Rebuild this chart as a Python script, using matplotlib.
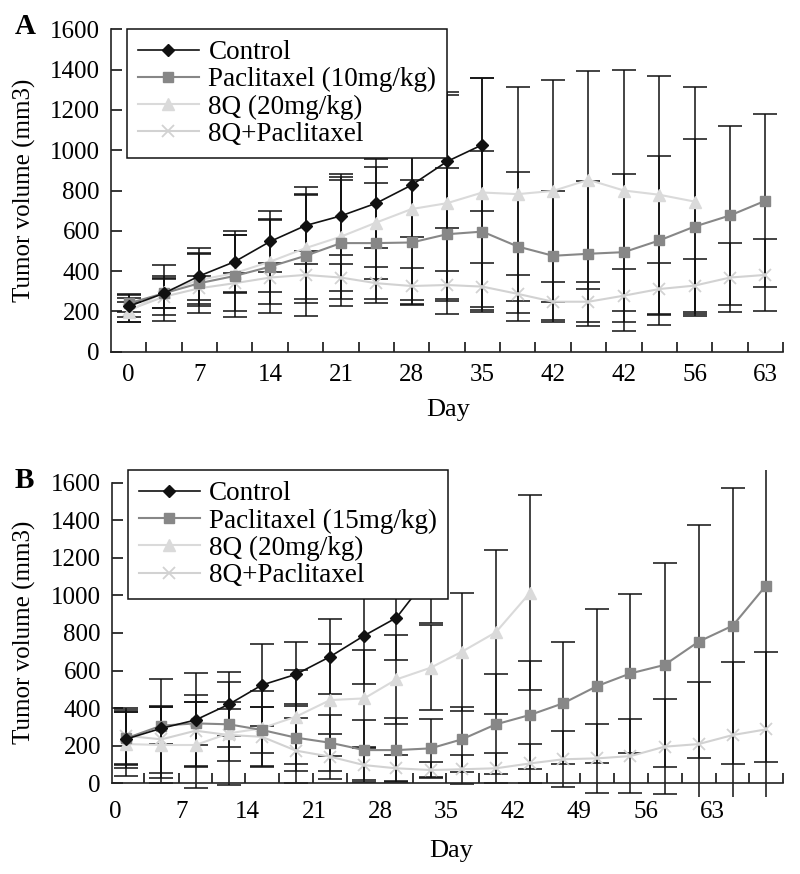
import numpy as np
import matplotlib
matplotlib.use('Agg')
import matplotlib.pyplot as plt
from matplotlib.ticker import FixedLocator

plt.rcParams['font.family'] = ['Liberation Serif', 'DejaVu Serif']

# ---- panel A (category axis, one category = 3.5 days) ----
a_labels = ['0', '7', '14', '21', '28', '35', '42', '42', '56', '63']
a_control = [225, 290, 376, 447, 547, 626, 674, 737, 827, 944, 1027]
a_control_err = [55, 140, 140, 150, 150, 190, 195, 220, 260, 330, 330]
a_pac = [240, 290, 340, 376, 422, 476, 539, 539, 542, 583, 596, 522, 476, 486, 494, 552, 621, 676, 749]
a_pac_err = [45, 75, 150, 205, 230, 300, 314, 297, 310, 330, 400, 370, 320, 360, 390, 420, 435, 445, 430]
a_8q = [199, 298, 356, 390, 447, 514, 571, 641, 708, 737, 790, 782, 798, 853, 800, 779, 745]
a_8q_err = [50, 80, 130, 190, 210, 270, 310, 278, 450, 550, 570, 530, 550, 540, 600, 590, 570]
a_combo = [207, 273, 315, 340, 368, 381, 368, 340, 326, 331, 323, 287, 248, 248, 278, 311, 328, 368, 381]
a_combo_err = [60, 90, 60, 50, 70, 120, 67, 80, 90, 70, 116, 95, 100, 100, 130, 130, 130, 170, 180]

# ---- panel B ----
b_ticks = [0, 7, 14, 21, 28, 35, 42, 49, 56, 63]
b_days = [1.2, 4.9, 8.5, 12.0, 15.5, 19.1, 22.7, 26.3, 29.7, 33.3, 36.6, 40.2, 43.8, 47.3, 50.9, 54.4, 58.0, 61.6, 65.2, 68.7]
b_control = [236, 293, 337, 420, 523, 580, 674, 786, 881, 1115]
b_control_err = [154, 262, 252, 170, 218, 170, 200, 255, 225, 260]
b_pac = [240, 307, 319, 314, 284, 243, 216, 177, 177, 186, 234, 314, 364, 426, 518, 585, 630, 754, 839, 1052]
b_pac_err = [140, 100, 115, 120, 124, 177, 150, 160, 170, 154, 174, 266, 287, 324, 410, 423, 544, 621, 734, 940]
b_8q = [209, 204, 204, 266, 293, 355, 443, 452, 553, 615, 700, 804, 1014]
b_8q_err = [170, 200, 230, 275, 200, 250, 300, 260, 236, 225, 314, 437, 520]
b_combo = [253, 234, 280, 257, 248, 174, 142, 97, 80, 71, 75, 80, 106, 128, 133, 145, 195, 209, 257, 287]
b_combo_err = [150, 180, 190, 140, 160, 174, 120, 90, 70, 44, 76, 80, 103, 150, 183, 197, 254, 332, 390, 413]

W, H = 800, 874
fig = plt.figure(figsize=(W / 100, H / 100), dpi=100)

def frac(l, t, r, b):
    return [l / W, 1 - b / H, (r - l) / W, (b - t) / H]

styles = [
    dict(label='Control', color='#111111', marker='D', ms=6.5, lw=1.2, mew=1),
    dict(label=None, color='#878787', marker='s', ms=7, lw=1.5, mew=1),
    dict(label='8Q (20mg/kg)', color='#dadada', marker='^', ms=8.5, lw=1.5, mew=1),
    dict(label='8Q+Paclitaxel', color='#d2d2d2', marker='x', ms=8, lw=1.5, mew=1.3),
]

def draw(ax, series, pac_label):
    # error bars first, black
    for x, y, e in series:
        ax.errorbar(x, y, yerr=e, fmt='none', ecolor='#111111', elinewidth=1.1,
                    capsize=8.5, capthick=1.1, zorder=2)
    handles = []
    for i in [3, 2, 1, 0]:
        x, y, e = series[i]
        st = styles[i]
        lab = pac_label if i == 1 else st['label']
        h, = ax.plot(x, y, color=st['color'], marker=st['marker'], ms=st['ms'],
                     lw=st['lw'], mew=st['mew'], mfc=st['color'], mec=st['color'],
                     label=lab, zorder=3 + (3 - i))
        handles.append(h)
    return handles[::-1]

def style_axes(ax):
    for s in ['top', 'right']:
        ax.spines[s].set_visible(False)
    for s in ['left', 'bottom']:
        ax.spines[s].set_linewidth(1.2)
        ax.spines[s].set_color('#222222')
    ax.set_yticks(range(0, 1601, 200))
    ax.tick_params(axis='y', direction='in', length=8, width=1.1, labelsize=18, pad=8)
    ax.tick_params(axis='x', which='major', length=0, labelsize=18, pad=9)
    ax.tick_params(axis='x', which='minor', direction='in', length=7, width=1.1)

def add_legend(ax, handles):
    leg = ax.legend(handles=handles, loc='upper left', bbox_to_anchor=(0.024, 1.0),
                    borderaxespad=0, fontsize=19.5, frameon=True, fancybox=False,
                    edgecolor='#111111', framealpha=1, handlelength=2.25,
                    handletextpad=0.35, labelspacing=0.08, borderpad=0.4)
    leg.get_frame().set_linewidth(1.1)
    leg.set_zorder(10)

# panel A
axA = fig.add_axes(frac(111, 29.3, 783, 351.7))
xa = np.arange(len(a_pac))
seriesA = [
    (xa[:len(a_control)], a_control, a_control_err),
    (xa, a_pac, a_pac_err),
    (xa[:len(a_8q)], a_8q, a_8q_err),
    (xa, a_combo, a_combo_err),
]
hA = draw(axA, seriesA, 'Paclitaxel (10mg/kg)')
axA.set_xlim(-0.5, len(a_pac) - 0.5)
axA.set_ylim(0, 1600)
style_axes(axA)
axA.set_xticks(xa[::2])
axA.set_xticklabels(a_labels)
axA.xaxis.set_minor_locator(FixedLocator(np.arange(0.5, len(a_pac), 1.0)))
add_legend(axA, hA)

# panel B
axB = fig.add_axes(frac(112, 470.4, 783, 796.5))
bd = np.array(b_days)
seriesB = [
    (bd[:len(b_control)], b_control, b_control_err),
    (bd, b_pac, b_pac_err),
    (bd[:len(b_8q)], b_8q, b_8q_err),
    (bd, b_combo, b_combo_err),
]
hB = draw(axB, seriesB, 'Paclitaxel (15mg/kg)')
axB.set_xlim(-0.32, 70.5)
axB.set_ylim(-70, 1665)
style_axes(axB)
axB.spines['bottom'].set_position(('data', 0))
axB.spines['left'].set_bounds(0, 1600)
axB.set_xticks(b_ticks)
axB.set_xticklabels([str(t) for t in b_ticks])
mids = list((bd[:-1] + bd[1:]) / 2) + [70.5]
axB.xaxis.set_minor_locator(FixedLocator(mids))
axB.tick_params(axis='x', which='major', pad=13)
add_legend(axB, hB)

# text labels
fig.text(15 / W, 1 - 27 / H, 'A', fontsize=21, fontweight='bold', va='center', ha='left')
fig.text(15 / W, 1 - 481 / H, 'B', fontsize=21, fontweight='bold', va='center', ha='left')
fig.text(24 / W, 1 - 190 / H, 'Tumor volume (mm3)', fontsize=18, rotation=90, va='center', ha='center')
fig.text(24 / W, 1 - 632 / H, 'Tumor volume (mm3)', fontsize=18, rotation=90, va='center', ha='center')
fig.text(448 / W, 1 - 410 / H, 'Day', fontsize=19, va='center', ha='center')
fig.text(451 / W, 1 - 851 / H, 'Day', fontsize=19, va='center', ha='center')

fig.savefig('out.png', dpi=100, facecolor='white')
